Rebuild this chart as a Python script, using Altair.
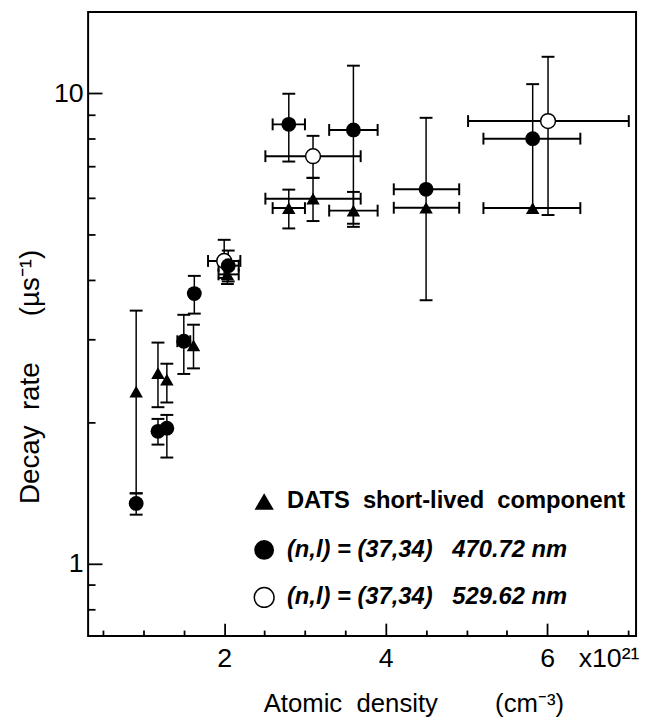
import altair as alt
import pandas as pd

FONT = "Liberation Sans"
NB = "\u00a0"

# ---- data (x in units of 1e21 cm^-3, y = decay rate in us^-1) ----
# DATS short-lived component (filled triangles)
tri_x   = [0.91, 1.18, 1.29, 1.62, 2.04, 2.80, 3.10, 3.60, 4.50, 5.82]
tri_y   = [2.32, 2.54, 2.46, 2.91, 4.12, 5.70, 5.97, 5.63, 5.71, 5.70]
tri_ylo = [1.41, 2.15, 2.20, 2.60, 3.93, 5.16, 5.35, 5.28, None, None]
tri_yhi = [3.45, 2.95, 2.66, 3.22, 4.30, 6.24, 6.61, 6.17, None, None]
tri_xlo = [None, None, None, None, 1.93, 2.60, 2.51, 3.30, 4.10, 5.21]
tri_xhi = [None, None, None, None, 2.18, 3.00, 3.69, 3.90, 4.91, 6.41]

# (n,l) = (37,34) 470.72 nm (filled circles)
fil_x   = [0.91, 1.18, 1.29, 1.50, 1.63, 2.05, 2.80, 3.60, 4.50, 5.82]
fil_y   = [1.342, 1.91, 1.94, 2.97, 3.75, 4.30, 8.59, 8.36, 6.25, 8.01]
fil_ylo = [1.27, 1.79, 1.68, 2.53, 3.40, 3.98, 7.16, 5.20, 3.63, 5.70]
fil_yhi = [1.41, 2.03, 2.07, 3.38, 4.09, 4.63, 9.98, 11.45, 8.87, 10.46]
fil_xlo = [None, None, None, 1.42, None, 1.93, 2.60, 3.30, 4.10, 5.21]
fil_xhi = [None, None, None, 1.58, None, 2.18, 3.00, 3.90, 4.91, 6.41]

# (n,l) = (37,34) 529.62 nm (open circles)
opn_x   = [2.00, 3.10, 6.01]
opn_y   = [4.40, 7.35, 8.73]
opn_ylo = [4.05, 6.61, 5.51]
opn_yhi = [4.88, 8.12, 11.96]
opn_xlo = [1.80, 2.51, 5.02]
opn_xhi = [2.20, 3.69, 7.01]

# axis ticks / labels
x_label_vals = [2, 4, 6, 6.76]
x_major = [2, 4, 6]
x_minor = [0.5, 1, 1.5, 2.5, 3, 3.5, 4.5, 5, 5.5, 6.5, 7]
y_label_vals = [1, 10]
y_major = [1, 10]
y_minor = [0.8, 0.9, 2, 3, 4, 5, 6, 7, 8, 9]

legend_labels = [
    "DATS" + NB + " short-lived" + NB + " component",
    "(n,l) = (37,34)" + NB + NB + " 470.72 nm",
    "(n,l) = (37,34)" + NB + NB + " 529.62 nm",
]

x_title = "Atomic" + NB + " density" + NB * 8 + "(cm\u207b\u00b3)"
y_title = "Decay" + NB + " rate" + NB * 6 + "(\u00b5s\u207b\u00b9)"

def frame(series, x, y, ylo, yhi, xlo, xhi):
    return pd.DataFrame({"series": series, "x": x, "y": y, "ylo": ylo,
                         "yhi": yhi, "xlo": xlo, "xhi": xhi})

df = pd.concat([
    frame("tri", tri_x, tri_y, tri_ylo, tri_yhi, tri_xlo, tri_xhi),
    frame("fil", fil_x, fil_y, fil_ylo, fil_yhi, fil_xlo, fil_xhi),
    frame("opn", opn_x, opn_y, opn_ylo, opn_yhi, opn_xlo, opn_xhi),
], ignore_index=True)

W, H = 554, 631
xs = alt.Scale(domain=[0.315, 7.10], nice=False, zero=False)
ys = alt.Scale(type="log", domain=[0.701, 14.9], nice=False)

def X(f, axis=None):
    return alt.X(f, type="quantitative", scale=xs, axis=axis)

def Y(f, axis=None):
    return alt.Y(f, type="quantitative", scale=ys, axis=axis)

base = alt.Chart(df)
LW = 1.5

vr = base.transform_filter("isValid(datum.ylo)").mark_rule(color="black", strokeWidth=LW).encode(
    x=X("x"), y=Y("ylo"), y2="yhi")
vc1 = base.transform_filter("isValid(datum.ylo)").mark_tick(
    orient="horizontal", size=13, thickness=2, color="black", opacity=1).encode(x=X("x"), y=Y("ylo"))
vc2 = base.transform_filter("isValid(datum.yhi)").mark_tick(
    orient="horizontal", size=13, thickness=2, color="black", opacity=1).encode(x=X("x"), y=Y("yhi"))
hr = base.transform_filter("isValid(datum.xlo)").mark_rule(color="black", strokeWidth=2).encode(
    x=X("xlo"), x2="xhi", y=Y("y"))
hc1 = base.transform_filter("isValid(datum.xlo)").mark_tick(
    orient="vertical", size=12, thickness=2, color="black", opacity=1).encode(x=X("xlo"), y=Y("y"))
hc2 = base.transform_filter("isValid(datum.xhi)").mark_tick(
    orient="vertical", size=12, thickness=2, color="black", opacity=1).encode(x=X("xhi"), y=Y("y"))

opn = base.transform_filter("datum.series == 'opn'").mark_point(
    shape="circle", filled=True, fill="white", stroke="black", strokeWidth=1.5, size=225, opacity=1
).encode(x=X("x"), y=Y("y"))
tri = base.transform_filter("datum.series == 'tri'").mark_point(
    shape="triangle-up", filled=True, color="black", size=185, opacity=1
).encode(x=X("x"), y=Y("y"))
fil = base.transform_filter("datum.series == 'fil'").mark_point(
    shape="circle", filled=True, color="black", size=225, opacity=1
).encode(x=X("x"), y=Y("y"))

# ---- axes ----
ax_x_main = alt.Axis(
    orient="bottom", values=x_label_vals,
    labelExpr="datum.value > 6.5 ? 'x10\u00b2\u00b9' : '' + datum.value",
    ticks=False, tickSize=0, domain=False, grid=False, labelFlush=False, labelOverlap=False,
    labelPadding=10, labelFont=FONT, labelFontSize=27, labelColor="black",
    title=x_title, titleFont=FONT, titleFontSize=26, titleFontWeight="normal", titleColor="black",
    titleAlign="left", titleX=177, titleY=68, titleBaseline="middle")
ax_y_main = alt.Axis(
    orient="left", values=y_label_vals, labelExpr="'' + datum.value",
    ticks=False, tickSize=0, domain=False, grid=False, labelOverlap=False,
    labelPadding=5, labelFont=FONT, labelFontSize=27, labelColor="black",
    title=y_title, titleFont=FONT, titleFontSize=28, titleFontWeight="normal", titleColor="black",
    titleAngle=270, titleAlign="left", titleX=-58, titleY=497, titleBaseline="middle")

def tick_axis(orient, offset, values, size):
    return alt.Axis(orient=orient, offset=offset, values=values, tickSize=size, tickWidth=1.8,
                    tickColor="black", labels=False, domain=False, grid=False, title=None)

main_axes = base.mark_point(opacity=0).encode(x=X("x", ax_x_main), y=Y("y", ax_y_main))
major_axes = base.mark_point(opacity=0).encode(
    x=X("x", tick_axis("top", -H, x_major, 13)), y=Y("y", tick_axis("right", -W, y_major, 14)))
minor_axes = base.mark_point(opacity=0).encode(
    x=X("x", tick_axis("top", -H, x_minor, 6)), y=Y("y", tick_axis("right", -W, y_minor, 7)))

# ---- legend (custom, in pixel layout) ----
leg_y = [495, 544, 592]
leg_sym_x = 178
leg_txt_x = 201
legend_layers = []
sym_marks = [
    dict(shape="triangle-up", filled=True, color="black", size=380, opacity=1),
    dict(shape="circle", filled=True, color="black", size=400, opacity=1),
    dict(shape="circle", filled=True, fill="white", stroke="black", strokeWidth=1.5, size=400, opacity=1),
]
for i, lab in enumerate(legend_labels):
    d = pd.DataFrame({"label": [lab]})
    legend_layers.append(
        alt.Chart(d).mark_point(**sym_marks[i]).encode(x=alt.value(leg_sym_x), y=alt.value(leg_y[i])))
    legend_layers.append(
        alt.Chart(d).mark_text(align="left", baseline="middle", font=FONT, fontSize=24,
                               fontWeight="bold", fontStyle=("normal" if i == 0 else "italic"),
                               color="black").encode(
            x=alt.value(leg_txt_x), y=alt.value(leg_y[i]), text="label:N"))

chart = alt.layer(
    main_axes, major_axes, minor_axes,
    vr, vc1, vc2, hr, hc1, hc2, opn, tri, fil,
    *legend_layers
).resolve_axis(x="independent", y="independent").properties(
    width=W, height=H,
    autosize=alt.AutoSizeParams(type="none"),
    padding={"left": 81, "top": 0, "right": 5, "bottom": 84},
    background="white",
).configure_view(stroke="black", strokeWidth=2)

chart.save("out.html", embed_options={"renderer": "svg", "actions": False})
